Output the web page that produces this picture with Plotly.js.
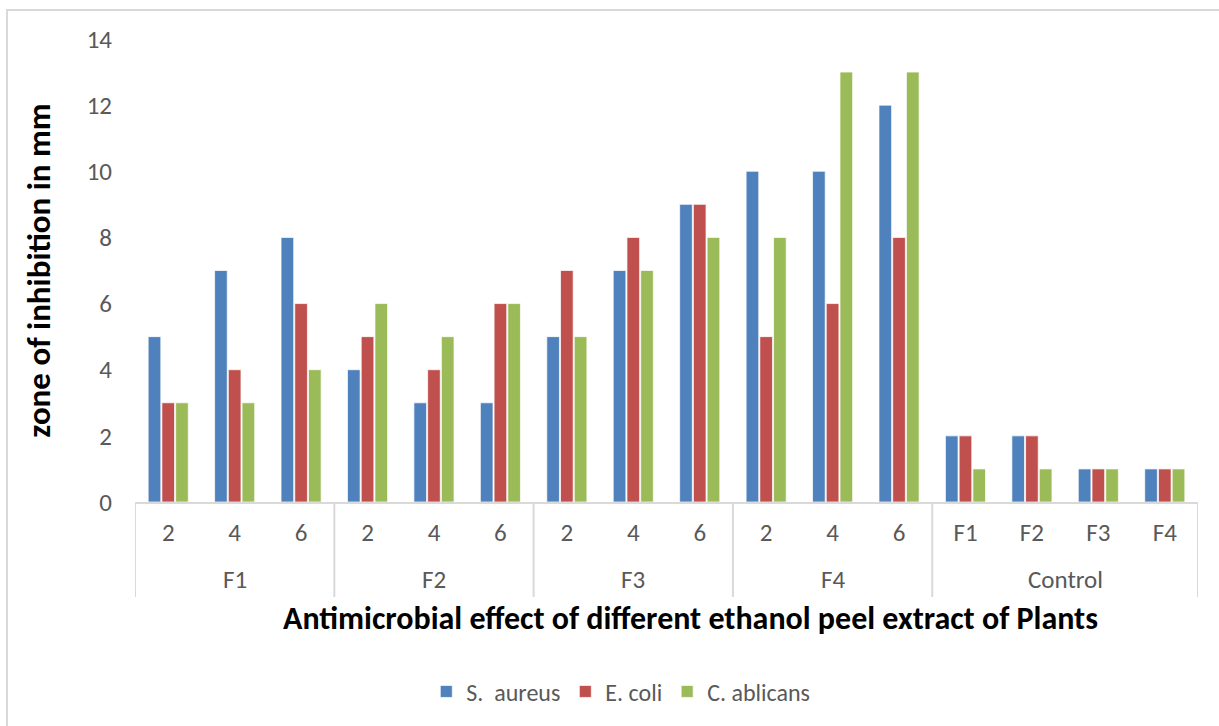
<!DOCTYPE html>
<html>
<head>
<meta charset="utf-8">
<script src="https://cdn.plot.ly/plotly-3.0.1.min.js"></script>
<style>html,body{margin:0;padding:0;background:#fff;}#chart{width:1219px;height:726px;}</style>
</head>
<body>
<div id="chart"></div>
<script>
const groups = ["F1","F1","F1","F2","F2","F2","F3","F3","F3","F4","F4","F4","Control","Control","Control","Control"];
const subs   = ["2","4","6","2","4","6","2","4","6","2","4","6","F1","F2","F3","F4"];
const sAureus   = [5,7,8, 4,3,3, 5,7,9, 10,10,12, 2,2,1,1];
const eColi     = [3,4,6, 5,4,6, 7,8,9, 5,6,8,   2,2,1,1];
const cAblicans = [3,3,4, 6,5,6, 5,7,8, 8,13,13, 1,1,1,1];
const seriesNames = ["S.  aureus","E. coli","C. ablicans"];
const yTicks = [0,2,4,6,8,10,12,14];
const xTitle = "Antimicrobial effect of different ethanol peel extract of Plants";
const yTitle = "zone of inhibition in mm";

const colors = ["#4F81BD","#C0504D","#9BBB59"];
const idx = subs.map((_,i)=>i);
const series = [sAureus, eColi, cAblicans];
const traces = series.map((vals,i)=>({
  type:"bar",
  x:idx,
  y:vals,
  name:seriesNames[i],
  customdata:groups.map((g,k)=>g+" "+subs[k]),
  hovertemplate:"%{customdata}: %{y}<extra>"+seriesNames[i]+"</extra>",
  marker:{color:colors[i], line:{color:"rgba(255,255,255,0.7)", width:1}}
}));

// group spans derived from groups array
const spans = [];
groups.forEach((g,i)=>{
  if(!spans.length || spans[spans.length-1].name!==g) spans.push({name:g,start:i,end:i});
  else spans[spans.length-1].end=i;
});

const font = "Carlito, Calibri, Lato, sans-serif";
const L = 135, R = 1198, T = 39, B = 502;
const pw = R-L, ph = B-T;
const divColor = "#D9D9D9";

const shapes = [];
const bounds = [spans[0].start-0.5].concat(spans.map(s=>s.end+0.5));
bounds.forEach(b=>shapes.push({type:"line", xref:"x", yref:"paper", x0:b, x1:b, y0:0, y1:(B-597)/ph,
  line:{color:divColor, width:2}}));
shapes.push({type:"rect", xref:"paper", yref:"paper",
    x0:(7-L)/pw, x1:(1230-L)/pw, y0:(B-740)/ph, y1:(B-10)/ph,
    line:{color:divColor, width:2}, fillcolor:"rgba(0,0,0,0)", layer:"below"});

const annotations = spans.map(s=>({
  xref:"x", yref:"paper", x:(s.start+s.end)/2, y:(B-579)/ph, yanchor:"middle", xanchor:"center",
  text:s.name, showarrow:false, font:{family:font, size:25, color:"#595959"}
}));
annotations.push({xref:"paper", yref:"paper", x:(690-L)/pw, y:(B-618)/ph, xanchor:"center", yanchor:"middle",
  text:xTitle, showarrow:false, font:{family:font, size:32, color:"#000", weight:"bold"}});

const layout = {
  width:1219, height:726,
  margin:{l:L, r:1219-R, t:T, b:726-B},
  paper_bgcolor:"#fff", plot_bgcolor:"#fff",
  barmode:"group", bargap:0.38, bargroupgap:0.08,
  font:{family:font, color:"#595959", size:25},
  xaxis:{
    range:[-0.5, subs.length-0.5], tickvals:idx, ticktext:subs,
    showline:true, linecolor:divColor, linewidth:2, zeroline:false,
    showgrid:false, ticks:"", ticklabelstandoff:7,
    tickfont:{family:font, size:25, color:"#595959"}
  },
  yaxis:{
    range:[0,14], tickvals:yTicks, showgrid:false, zeroline:false,
    showline:false, ticks:"",
    tickfont:{family:font, size:25, color:"#595959"},
    ticklabelstandoff:22,
    title:{text:yTitle, font:{family:font, size:33, color:"#000", weight:"bold"}, standoff:26}
  },
  legend:{orientation:"h", x:0.457, xanchor:"center", y:-0.41, yanchor:"middle",
          font:{family:font, size:24, color:"#595959"}, itemwidth:30, traceorder:"normal"},
  shapes:shapes,
  annotations:annotations,
  showlegend:true
};
Plotly.newPlot("chart", traces, layout, {displayModeBar:false, responsive:false});
</script>
</body>
</html>
